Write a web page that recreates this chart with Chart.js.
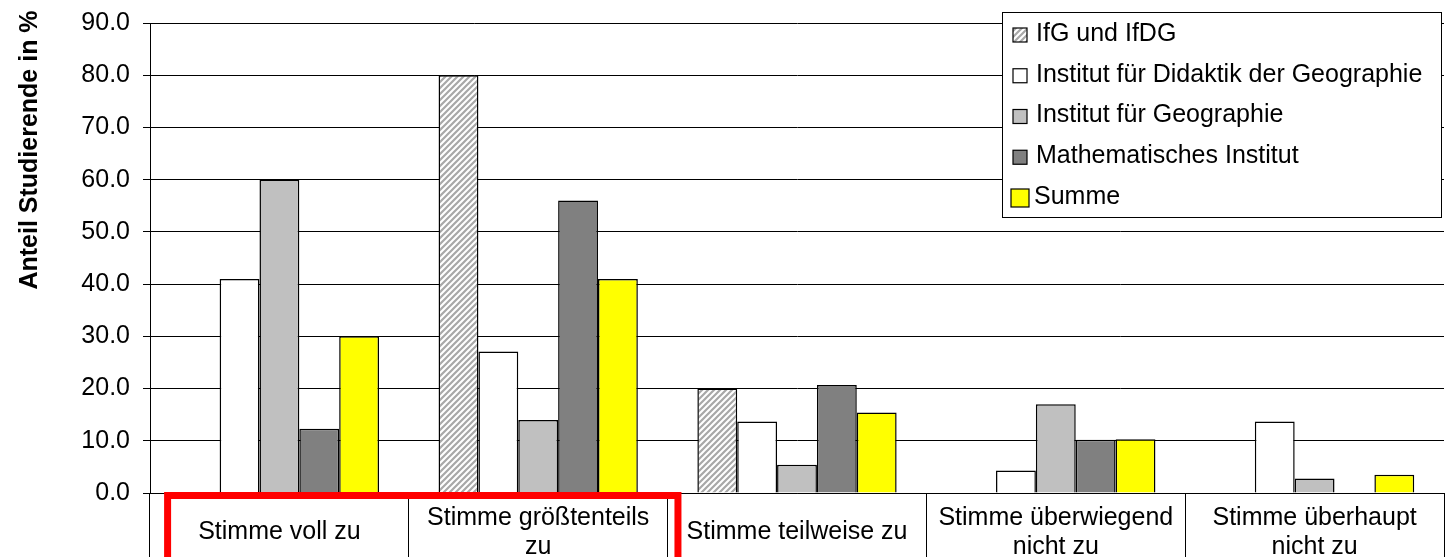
<!DOCTYPE html>
<html>
<head>
<meta charset="utf-8">
<script src="https://cdn.jsdelivr.net/npm/chart.js@4.4.1/dist/chart.umd.min.js"></script>
<style>
  html, body { margin: 0; padding: 0; background: #fff; }
  #wrap { width: 1448px; height: 557px; position: relative; }
</style>
</head>
<body>
<div id="wrap"><canvas id="chart"></canvas></div>
<script>
// Answer categories (multi-line where the original wraps)
const CATEGORIES = [
  "Stimme voll zu",
  ["Stimme größtenteils", "zu"],
  "Stimme teilweise zu",
  ["Stimme überwiegend", "nicht zu"],
  ["Stimme überhaupt", "nicht zu"],
];

// Share of students in %, one value per category
const IFG_IFDG = [0, 80.0, 20.0, 0, 0];
const DIDAKTIK = [41.0, 27.1, 13.7, 4.3, 13.7];
const GEOGRAPHIE = [60.0, 14.0, 5.4, 17.0, 2.8];
const MATHEMATIK = [12.3, 56.0, 20.7, 10.2, 0];
const SUMME = [30.0, 41.0, 15.4, 10.3, 3.5];

const SERIES_LABELS = [
  "IfG und IfDG",
  "Institut für Didaktik der Geographie",
  "Institut für Geographie",
  "Mathematisches Institut",
  "Summe",
];

const Y_TITLE = "Anteil Studierende in %";
const Y_TICKS = [0, 10, 20, 30, 40, 50, 60, 70, 80, 90];

// categories framed by the red box in the original
const HIGHLIGHT = [0, 1];

const FONT = '"Liberation Sans", Arial, Helvetica, sans-serif';

/** White tile with grey "/" stripes, like the Excel hatch fill. */
function hatchPattern() {
  const size = 6;
  const c = document.createElement("canvas");
  c.width = size;
  c.height = size;
  const g = c.getContext("2d");
  g.fillStyle = "#fff";
  g.fillRect(0, 0, size, size);
  g.strokeStyle = "#a8a8a8";
  g.lineWidth = 2.2;
  g.beginPath();
  g.moveTo(-1, size + 1);
  g.lineTo(size + 1, -1);
  g.moveTo(-1, 1);
  g.lineTo(1, -1);
  g.moveTo(size - 1, size + 1);
  g.lineTo(size + 1, size - 1);
  g.stroke();
  return document.getElementById("chart").getContext("2d").createPattern(c, "repeat");
}

const HATCH = hatchPattern();

function barSet(label, data, fill) {
  return {
    label,
    data,
    backgroundColor: fill,
    borderColor: "#000",
    borderWidth: 1.5,
    borderSkipped: "bottom",
    categoryPercentage: 0.77,
    barPercentage: 1.0,
  };
}

// Legend box drawn inside the plot, top right
const legendBox = {
  id: "legendBox",
  afterDraw(chart) {
    const { ctx, chartArea } = chart;
    const w = 439, h = 205;
    const x0 = chartArea.right - w - 3;
    const y0 = chartArea.top - 11;
    ctx.save();
    ctx.fillStyle = "#fff";
    ctx.fillRect(x0, y0, w, h);
    ctx.strokeStyle = "#000";
    ctx.lineWidth = 1;
    ctx.strokeRect(x0 + 0.5, y0 + 0.5, w, h);
    ctx.font = "25px " + FONT;
    ctx.textBaseline = "middle";
    ctx.textAlign = "left";
    chart.data.datasets.forEach((ds, i) => {
      const cy = y0 + 22 + i * 40.75;
      const last = i === chart.data.datasets.length - 1;
      const s = last ? 18 : 14;
      const mx = last ? x0 + 9 : x0 + 11;
      ctx.fillStyle = ds.backgroundColor;
      ctx.fillRect(mx, cy - s / 2 + 1, s, s);
      ctx.strokeStyle = "#000";
      ctx.lineWidth = 1.2;
      ctx.strokeRect(mx, cy - s / 2 + 1, s, s);
      ctx.fillStyle = "#000";
      ctx.fillText(ds.label, last ? x0 + 32 : x0 + 34, cy);
    });
    ctx.restore();
  },
};

// Rotated bold axis title, sitting near the top like the original
const yTitle = {
  id: "yTitle",
  afterDraw(chart) {
    const { ctx } = chart;
    ctx.save();
    ctx.translate(30, 150);
    ctx.rotate(-Math.PI / 2);
    ctx.font = "bold 25px " + FONT;
    ctx.fillStyle = "#000";
    ctx.textAlign = "center";
    ctx.textBaseline = "middle";
    ctx.fillText(Y_TITLE, 0, 0);
    ctx.restore();
  },
};

// Red frame around the highlighted category labels
const highlightBox = {
  id: "highlightBox",
  afterDraw(chart) {
    const x = chart.scales.x;
    const { ctx, chartArea } = chart;
    const step = x.width / CATEGORIES.length;
    const left = x.getPixelForValue(HIGHLIGHT[0]) - step * 0.432;
    const right = x.getPixelForValue(HIGHLIGHT[HIGHLIGHT.length - 1]) + step * 0.54;
    ctx.save();
    ctx.strokeStyle = "#ff0000";
    ctx.lineWidth = 7;
    ctx.strokeRect(left, chartArea.bottom + 2.5, right - left, chart.height);
    ctx.restore();
  },
};

Chart.defaults.font.family = FONT;
Chart.defaults.font.size = 25;
Chart.defaults.color = "#000";

new Chart(document.getElementById("chart"), {
  type: "bar",
  data: {
    labels: CATEGORIES,
    datasets: [
      barSet(SERIES_LABELS[0], IFG_IFDG, HATCH),
      barSet(SERIES_LABELS[1], DIDAKTIK, "#ffffff"),
      barSet(SERIES_LABELS[2], GEOGRAPHIE, "#c0c0c0"),
      barSet(SERIES_LABELS[3], MATHEMATIK, "#808080"),
      barSet(SERIES_LABELS[4], SUMME, "#ffff00"),
    ],
  },
  options: {
    responsive: true,
    maintainAspectRatio: false,
    animation: false,
    layout: { padding: { top: 23, right: 4, left: 0, bottom: 0 } },
    plugins: {
      legend: { display: false },
      tooltip: { enabled: false },
    },
    scales: {
      x: {
        grid: {
          display: true,
          drawOnChartArea: false,
          drawTicks: true,
          tickLength: 64,
          color: "#000",
          lineWidth: 1,
          offset: true,
        },
        border: { display: true, color: "#000", width: 1 },
        ticks: {
          color: "#000",
          font: { size: 25, lineHeight: 1.16 },
          padding: -39,
          crossAlign: "center",
          maxRotation: 0,
          autoSkip: false,
        },
        afterFit(scale) {
          scale.height = 64;
          scale.paddingLeft = 0;
          scale.paddingRight = 0;
        },
      },
      y: {
        min: Y_TICKS[0],
        max: Y_TICKS[Y_TICKS.length - 1],
        afterBuildTicks(scale) {
          scale.ticks = Y_TICKS.map((v) => ({ value: v }));
        },
        ticks: {
          color: "#000",
          font: { size: 25 },
          padding: 13,
          callback: (v) => Number(v).toFixed(1),
        },
        grid: { color: "#000", lineWidth: 1, tickLength: 7, drawTicks: true },
        border: { color: "#000", width: 1 },
        afterFit(scale) {
          scale.width = 150;
          scale.paddingTop = 0;
          scale.paddingBottom = 0;
        },
      },
    },
  },
  plugins: [legendBox, yTitle, highlightBox],
});
</script>
</body>
</html>
